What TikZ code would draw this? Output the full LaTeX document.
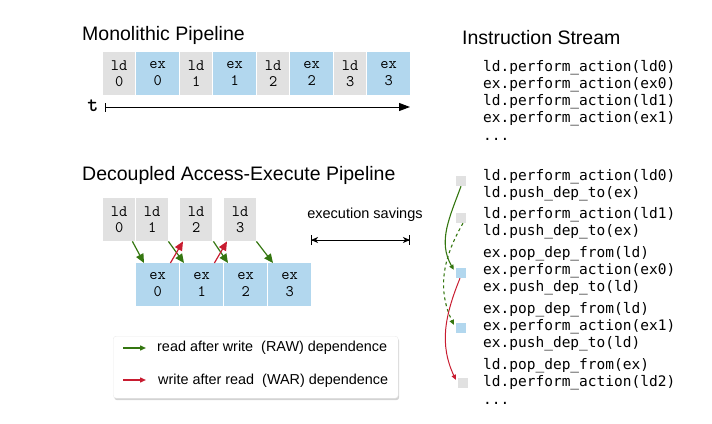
\documentclass[tikz,border=0pt]{standalone}
\usepackage{fontspec}
\setmainfont{Liberation Sans}
\newfontfamily\codemono{DejaVu Sans Mono}
\usetikzlibrary{arrows.meta,shadows}
\definecolor{ldgray}{RGB}{225,225,225}
\definecolor{exblue}{RGB}{178,215,238}
\definecolor{rawgreen}{RGB}{52,118,16}
\definecolor{warred}{RGB}{200,28,48}
\tikzset{
  ldbox/.style={fill=ldgray, draw=none, minimum width=32pt, minimum height=43pt, inner sep=0pt, align=center, font=\ttfamily\fontsize{16}{16.5}\selectfont},
  exbox/.style={ldbox, fill=exblue, minimum width=43pt},
  title/.style={anchor=west, inner sep=0pt, font=\fontsize{19.5}{22}\selectfont},
  code/.style={anchor=base west, inner sep=0pt, font=\codemono\fontsize{14.5}{16}\selectfont},
  sq/.style={minimum width=10pt, minimum height=10pt, inner sep=0pt, draw=none},
  rawarrow/.style={draw=rawgreen, line width=1.2pt, -{Triangle[length=9pt,width=8pt]}},
  wararrow/.style={draw=warred, line width=1.2pt, -{Triangle[length=9pt,width=8pt]}},
  legtext/.style={anchor=west, inner sep=0pt, font=\fontsize{14.4}{16}\selectfont},
}
\begin{document}
\begin{tikzpicture}[x=1pt,y=-1pt]
\useasboundingbox (0,0) rectangle (712,423);
% ---------------- Monolithic pipeline
\node[title] (tmono) at (82,35) {Monolithic Pipeline};
\node[ldbox, anchor=north west] (m1) at (103,52) {ld\\0};
\node[exbox, anchor=north west] (m2) at (136,52) {ex\\0};
\node[ldbox, anchor=north west] (m3) at (180,52) {ld\\1};
\node[exbox, anchor=north west] (m4) at (213,52) {ex\\1};
\node[ldbox, anchor=north west] (m5) at (257,52) {ld\\2};
\node[exbox, anchor=north west] (m6) at (290,52) {ex\\2};
\node[ldbox, anchor=north west] (m7) at (334,52) {ld\\3};
\node[exbox, anchor=north west] (m8) at (367,52) {ex\\3};
\node[inner sep=0pt, font=\ttfamily\bfseries\fontsize{21}{22}\selectfont] (tlab) at (93,106) {t};
\coordinate (tstart) at (105,107);
\coordinate (tend) at (410,107);
\draw[line width=1pt, {Bar[width=9pt]}-{Triangle[length=11pt,width=8pt]}] (tstart) -- (tend);

% ---------------- Decoupled pipeline
\node[title] (tdae) at (82,175) {Decoupled Access-Execute Pipeline};
\node[ldbox, anchor=north west] (l0) at (103,198) {ld\\0};
\node[ldbox, anchor=north west] (l1) at (136,198) {ld\\1};
\node[ldbox, anchor=north west] (l2) at (180,198) {ld\\2};
\node[ldbox, anchor=north west] (l3) at (224,198) {ld\\3};
\node[exbox, anchor=north west] (e0) at (136,263) {ex\\0};
\node[exbox, anchor=north west] (e1) at (180,263) {ex\\1};
\node[exbox, anchor=north west] (e2) at (224,263) {ex\\2};
\node[exbox, anchor=north west] (e3) at (268,263) {ex\\3};

\draw[rawarrow] ([xshift=-3pt]l0.south east) -- ([xshift=8pt]e0.north west);
\draw[rawarrow] ([xshift=0pt]l1.south east) -- ([xshift=4pt]e1.north west);
\draw[rawarrow] ([xshift=1pt]l2.south east) -- ([xshift=4pt]e2.north west);
\draw[rawarrow] ([xshift=0pt]l3.south east) -- ([xshift=5pt]e3.north west);
\draw[wararrow] ([xshift=-9pt]e0.north east) -- ([xshift=3pt]l2.south west);
\draw[wararrow] ([xshift=-9pt]e1.north east) -- ([xshift=3pt]l3.south west);

\node[inner sep=0pt, font=\fontsize{14.5}{16}\selectfont] (sav) at (365,215) {execution savings};
\coordinate (sa) at (311,240);
\coordinate (sb) at (410,240);
\draw[line width=1pt, {Bar[width=10pt]}-{Bar[width=10pt]}] (sa) -- (sb);
\draw[line width=1pt, {Stealth[length=7pt,width=6pt,inset=2pt]}-{Stealth[length=7pt,width=6pt,inset=2pt]}] (sa) -- (sb);

% ---------------- Legend
\node[draw=black!8, fill=white, rounded corners=3pt, minimum width=285pt, minimum height=62pt, anchor=north west, drop shadow={opacity=0.35, shadow xshift=1pt, shadow yshift=-2pt}] (legend) at (113,336) {};
\coordinate (g1) at (123,348);
\coordinate (g2) at (146,348);
\coordinate (r1) at (123,380);
\coordinate (r2) at (146,380);
\draw[draw=rawgreen, line width=1.4pt, -{Triangle[length=6pt,width=5pt]}] (g1) -- (g2);
\draw[draw=warred, line width=1.4pt, -{Triangle[length=6pt,width=5pt]}] (r1) -- (r2);
\node[legtext] (lraw) at (157,348) {read after write\ \ (RAW) dependence};
\node[legtext] (lwar) at (158,381) {write after read\ \ (WAR) dependence};

% ---------------- Instruction stream
\node[title] (tstream) at (462,38) {Instruction Stream};
\node[code] (c1) at (483,71) {ld.perform\_action(ld0)};
\node[code] (c2) at (483,88) {ex.perform\_action(ex0)};
\node[code] (c3) at (483,105) {ld.perform\_action(ld1)};
\node[code] (c4) at (483,122) {ex.perform\_action(ex1)};
\node[code] (c5) at (483,140) {...};

\node[code] (d1) at (483,180) {ld.perform\_action(ld0)};
\node[code] (d2) at (483,197) {ld.push\_dep\_to(ex)};
\node[code] (d3) at (483,218) {ld.perform\_action(ld1)};
\node[code] (d4) at (483,235) {ld.push\_dep\_to(ex)};
\node[code] (d5) at (483,257) {ex.pop\_dep\_from(ld)};
\node[code] (d6) at (483,274) {ex.perform\_action(ex0)};
\node[code] (d7) at (483,291) {ex.push\_dep\_to(ld)};
\node[code] (d8) at (483,313) {ex.pop\_dep\_from(ld)};
\node[code] (d9) at (483,330) {ex.perform\_action(ex1)};
\node[code] (d10) at (483,347) {ex.push\_dep\_to(ld)};
\node[code] (d11) at (483,369) {ld.pop\_dep\_from(ex)};
\node[code] (d12) at (483,386) {ld.perform\_action(ld2)};
\node[code] (d13) at (483,404) {...};

\node[sq, fill=ldgray] (s1) at (461,181) {};
\node[sq, fill=ldgray] (s2) at (461,218) {};
\node[sq, fill=exblue] (s3) at (461,273) {};
\node[sq, fill=exblue] (s4) at (461,328) {};
\node[sq, fill=ldgray] (s5) at (463,383) {};

\draw[draw=rawgreen, line width=1.1pt, -{Triangle[length=5pt,width=4.5pt]}] (s1.south) to[out=250, in=120] ([xshift=-2pt,yshift=-2pt]s3.north west);
\draw[draw=rawgreen, line width=1.1pt, dashed, -{Triangle[length=5pt,width=4.5pt]}] ([xshift=2pt]s2.south) to[out=240, in=115] ([xshift=-2pt,yshift=-2pt]s4.north west);
\draw[draw=warred, line width=1pt, -{Triangle[length=5pt,width=4.5pt]}] ([xshift=-1pt]s3.south) to[out=248, in=115] ([xshift=-2pt,yshift=-2pt]s5.north west);
\end{tikzpicture}
\end{document}
